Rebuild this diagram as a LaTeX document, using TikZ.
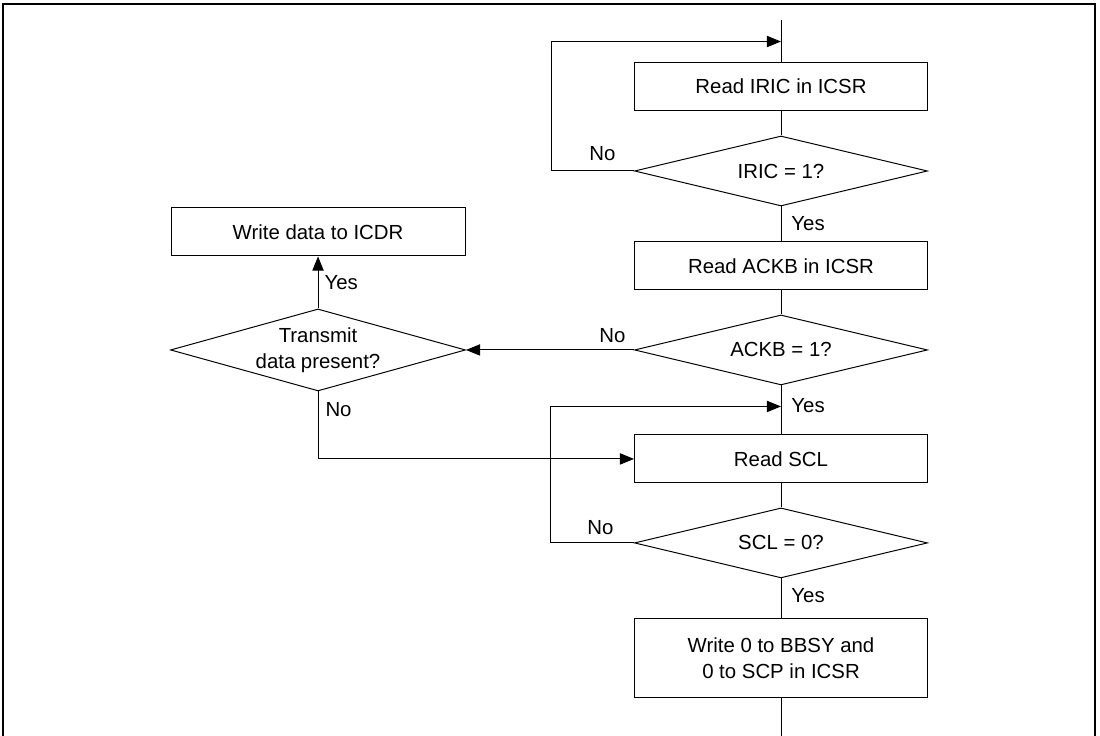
\documentclass[tikz,border=0pt]{standalone}
\usepackage{fontspec}
\setmainfont{Liberation Sans}
\usetikzlibrary{positioning, shapes.geometric, arrows.meta}
\begin{document}
\begin{tikzpicture}[
  font=\fontsize{14.5pt}{18.5pt}\selectfont,
  line width=0.7pt,
  box/.style={draw, minimum width=7.325cm, minimum height=1.2cm, align=center, inner sep=0pt},
  dec/.style={draw, diamond, aspect=4.2, minimum width=7.325cm, minimum height=1.75cm, align=center, inner sep=0pt},
  lbl/.style={inner sep=0pt},
  >={Triangle[length=10pt, width=8pt]},
]
\useasboundingbox (0,0) rectangle (27.5,-18.375);
\draw[line width=1.2pt] (0.075,-18.6) |- (27.375,-0.1) -- (27.375,-18.6);

\node[box] (rdiric) at (19.525,-2.15) {Read IRIC in ICSR};
\node[dec, below=0.625cm of rdiric] (iric) {IRIC = 1?};
\node[box, below=0.875cm of iric] (rdackb) {Read ACKB in ICSR};
\node[dec, below=0.6cm of rdackb] (ackb) {ACKB = 1?};
\node[box, below=1.225cm of ackb] (rdscl) {Read SCL};
\node[dec, below=0.6cm of rdscl] (scl) {SCL = 0?};
\node[box, minimum height=1.975cm, below=1cm of scl] (clr) {Write 0 to BBSY and\\0 to SCP in ICSR};
\node[dec, aspect=3.6, minimum width=7.375cm, minimum height=2.05cm, left=4.2cm of ackb] (txdata) {Transmit\\data present?};
\node[box, minimum width=7.35cm, above=1.3cm of txdata] (wrdata) {Write data to ICDR};

\coordinate[above=1.05cm of rdiric] (top);
\coordinate[above=0.5cm of rdiric] (jn1);
\coordinate[above=0.7cm of rdscl] (jn2);
\coordinate[below=0.975cm of clr] (bot);

\draw (top) -- (rdiric);
\draw (rdiric) -- (iric);
\draw (iric) -- (rdackb);
\draw (rdackb) -- (ackb);
\draw (ackb) -- (rdscl);
\draw (rdscl) -- (scl);
\draw (scl) -- (clr);
\draw (clr) -- (bot);
\draw[->] (iric.west) -- ++(-2.075,0) |- (jn1);
\draw[->] (scl.west) -- ++(-2.1,0) |- (jn2);
\draw[->] (ackb.west) -- (txdata.east);
\draw[->] (txdata) -- node[lbl, right=0.15cm]{Yes} (wrdata);
\draw[->] (txdata.south) |- (rdscl.west);

\node[lbl, above left=0.25cm and 0.45cm of iric.west] {No};
\node[lbl, below right=0.25cm and 0.25cm of iric.south] {Yes};
\node[lbl, above left=0.175cm and 0.2cm of ackb.west] {No};
\node[lbl, below right=0.325cm and 0.25cm of ackb.south] {Yes};
\node[lbl, above left=0.2cm and 0.5cm of scl.west] {No};
\node[lbl, below right=0.25cm and 0.25cm of scl.south] {Yes};
\node[lbl, below right=0.275cm and 0.175cm of txdata.south] {No};
\end{tikzpicture}
\end{document}
